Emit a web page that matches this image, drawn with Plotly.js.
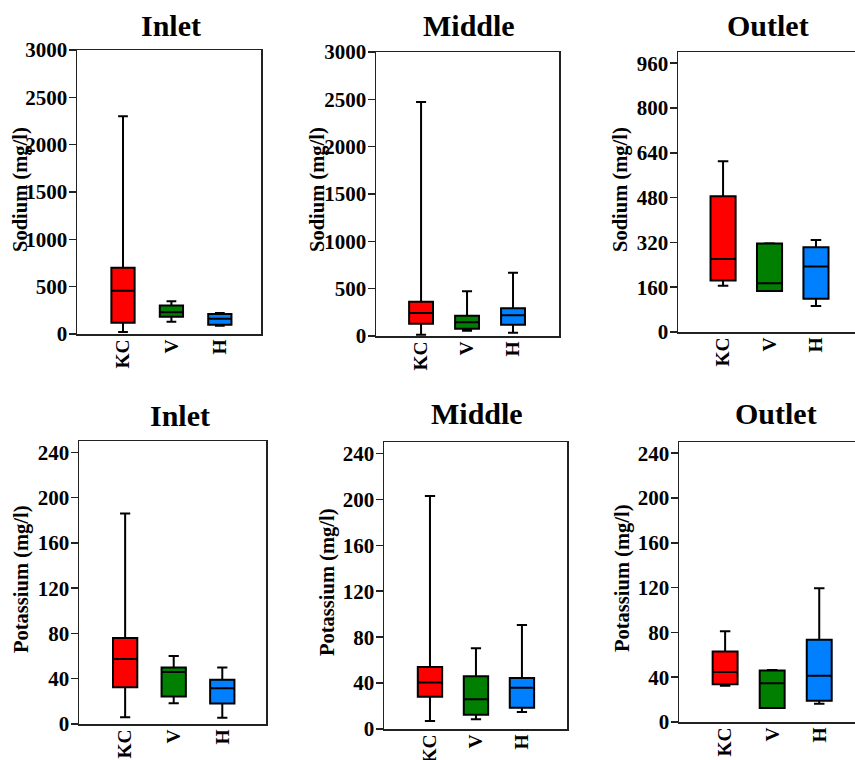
<!DOCTYPE html>
<html>
<head>
<meta charset="utf-8">
<script src="https://cdn.plot.ly/plotly-3.0.1.min.js"></script>
<style>html,body{margin:0;padding:0;background:#fff}#chart{width:855px;height:760px}</style>
</head>
<body>
<div id="chart"></div>
<script>
// ---- data ----
const groups = ['KC', 'V', 'H'];
const groupColors = ['#FF0000', '#007F00', '#0080FF'];

const naInletLow  = [20, 130, 88];
const naInletQ1   = [120, 183, 98];
const naInletMed  = [457, 229, 162];
const naInletQ3   = [700, 302, 211];
const naInletHigh = [2300, 345, 222];

const naMiddleLow  = [14, 56, 35];
const naMiddleQ1   = [130, 77, 120];
const naMiddleMed  = [243, 144, 218];
const naMiddleQ3   = [363, 215, 292];
const naMiddleHigh = [2472, 472, 669];

const naOutletLow  = [165, 146, 93];
const naOutletQ1   = [184, 146, 119];
const naOutletMed  = [261, 174, 234];
const naOutletQ3   = [485, 316, 303];
const naOutletHigh = [610, 317, 329];

const kInletLow  = [5.9, 18.3, 5.6];
const kInletQ1   = [32.4, 24.4, 18];
const kInletMed  = [57.4, 46, 31.5];
const kInletQ3   = [76, 50, 39];
const kInletHigh = [186, 60, 50];

const kMiddleLow  = [7, 8.4, 14.8];
const kMiddleQ1   = [28.2, 12.5, 18.6];
const kMiddleMed  = [40.4, 26, 36];
const kMiddleQ3   = [54, 46, 44.5];
const kMiddleHigh = [203, 70.4, 90.5];

const kOutletLow  = [32.4, 12.5, 16.4];
const kOutletQ1   = [33.6, 12.5, 19];
const kOutletMed  = [44.6, 34.5, 41.3];
const kOutletQ3   = [63, 46, 73.5];
const kOutletHigh = [81, 46.4, 119.5];

const naTicksA = [0, 500, 1000, 1500, 2000, 2500, 3000];
const naTicksB = [0, 160, 320, 480, 640, 800, 960];
const kTicks   = [0, 40, 80, 120, 160, 200, 240];

const panelTitles = ['Inlet', 'Middle', 'Outlet', 'Inlet', 'Middle', 'Outlet'];
const yTitles = ['Sodium (mg/l)', 'Sodium (mg/l)', 'Sodium (mg/l)',
                 'Potassium (mg/l)', 'Potassium (mg/l)', 'Potassium (mg/l)'];

// ---- layout config (pixels) ----
const W = 855, H = 760;
const FONT = 'Liberation Serif, Times New Roman, serif';
const panels = [
  {low: naInletLow, q1: naInletQ1, med: naInletMed, q3: naInletQ3, high: naInletHigh,
   px: [77, 261], py: [50, 334], xr: [-0.95, 2.85], yr: [0, 3000], ticks: naTicksA, bw: 0.48, right: true,
   tpos: [171, 26], ypos: [20, 190]},
  {low: naMiddleLow, q1: naMiddleQ1, med: naMiddleMed, q3: naMiddleQ3, high: naMiddleHigh,
   px: [376, 559], py: [52, 336], xr: [-0.98, 3.0], yr: [0, 3000], ticks: naTicksA, bw: 0.52, right: true,
   tpos: [469, 25], ypos: [317, 190]},
  {low: naOutletLow, q1: naOutletQ1, med: naOutletMed, q3: naOutletQ3, high: naOutletHigh,
   px: [678, 855], py: [52, 332], xr: [-0.97, 2.84], yr: [0, 1000], ticks: naTicksB, bw: 0.54, right: false,
   tpos: [768, 25], ypos: [620, 190]},
  {low: kInletLow, q1: kInletQ1, med: kInletMed, q3: kInletQ3, high: kInletHigh,
   px: [79, 266], py: [441, 724], xr: [-0.95, 2.9], yr: [0, 250], ticks: kTicks, bw: 0.5, right: true,
   tpos: [180, 415], ypos: [21, 580]},
  {low: kMiddleLow, q1: kMiddleQ1, med: kMiddleMed, q3: kMiddleQ3, high: kMiddleHigh,
   px: [384, 567], py: [442, 729], xr: [-1.0, 2.98], yr: [0, 250], ticks: kTicks, bw: 0.53, right: true,
   tpos: [477, 413], ypos: [327, 583]},
  {low: kOutletLow, q1: kOutletQ1, med: kOutletMed, q3: kOutletQ3, high: kOutletHigh,
   px: [679, 855], py: [442, 722], xr: [-0.98, 2.76], yr: [0, 250], ticks: kTicks, bw: 0.53, right: false,
   tpos: [776, 413], ypos: [622, 579]}
];

const traces = [];
const layout = {
  width: W, height: H,
  margin: {l: 0, r: 0, t: 0, b: 0},
  paper_bgcolor: '#fff', plot_bgcolor: '#fff',
  showlegend: false,
  boxmode: 'overlay',
  font: {family: FONT, color: '#111', size: 20, weight: 'bold'},
  annotations: []
};

panels.forEach((p, i) => {
  const n = i + 1;
  const xa = n === 1 ? 'x' : 'x' + n;
  const ya = n === 1 ? 'y' : 'y' + n;
  groups.forEach((g, j) => {
    traces.push({
      type: 'box',
      x: [g],
      q1: [p.q1[j]], median: [p.med[j]], q3: [p.q3[j]],
      lowerfence: [p.low[j]], upperfence: [p.high[j]],
      fillcolor: groupColors[j],
      line: {color: '#000', width: 2},
      width: p.bw,
      whiskerwidth: 0.42,
      boxpoints: false,
      hoverinfo: 'skip',
      xaxis: xa, yaxis: ya
    });
  });
  const xkey = n === 1 ? 'xaxis' : 'xaxis' + n;
  const ykey = n === 1 ? 'yaxis' : 'yaxis' + n;
  layout[xkey] = {
    domain: [p.px[0] / W, p.px[1] / W],
    anchor: ya,
    type: 'category',
    categoryorder: 'array', categoryarray: groups,
    range: p.xr,
    showline: true, mirror: true, linecolor: '#222', linewidth: 1.5,
    showgrid: false, zeroline: false,
    ticks: '', tickangle: -90, ticklabelstandoff: -4,
    tickfont: {family: FONT, size: 19.5, color: '#000', weight: 'bold'},
    fixedrange: true
  };
  layout[ykey] = {
    domain: [1 - p.py[1] / H, 1 - p.py[0] / H],
    anchor: xa,
    range: p.yr,
    tickvals: p.ticks,
    showline: true, mirror: p.right, linecolor: '#222', linewidth: 1.5,
    showgrid: false, zeroline: false,
    ticks: 'outside', ticklen: 7, tickwidth: 1.5, tickcolor: '#222',
    ticklabelstandoff: -3,
    tickfont: {family: FONT, size: 21, color: '#000', weight: 'bold'},
    fixedrange: true
  };
  layout.annotations.push({
    text: panelTitles[i], xref: 'paper', yref: 'paper',
    x: p.tpos[0] / W, y: 1 - p.tpos[1] / H, xanchor: 'center', yanchor: 'middle',
    showarrow: false, font: {family: FONT, size: 30, color: '#000', weight: 'bold'}
  });
  layout.annotations.push({
    text: yTitles[i], xref: 'paper', yref: 'paper', textangle: -90,
    x: p.ypos[0] / W, y: 1 - p.ypos[1] / H, xanchor: 'center', yanchor: 'middle',
    showarrow: false, font: {family: FONT, size: 20.5, color: '#000', weight: 'bold'}
  });
});

Plotly.newPlot('chart', traces, layout, {displayModeBar: false, staticPlot: true});
</script>
</body>
</html>
